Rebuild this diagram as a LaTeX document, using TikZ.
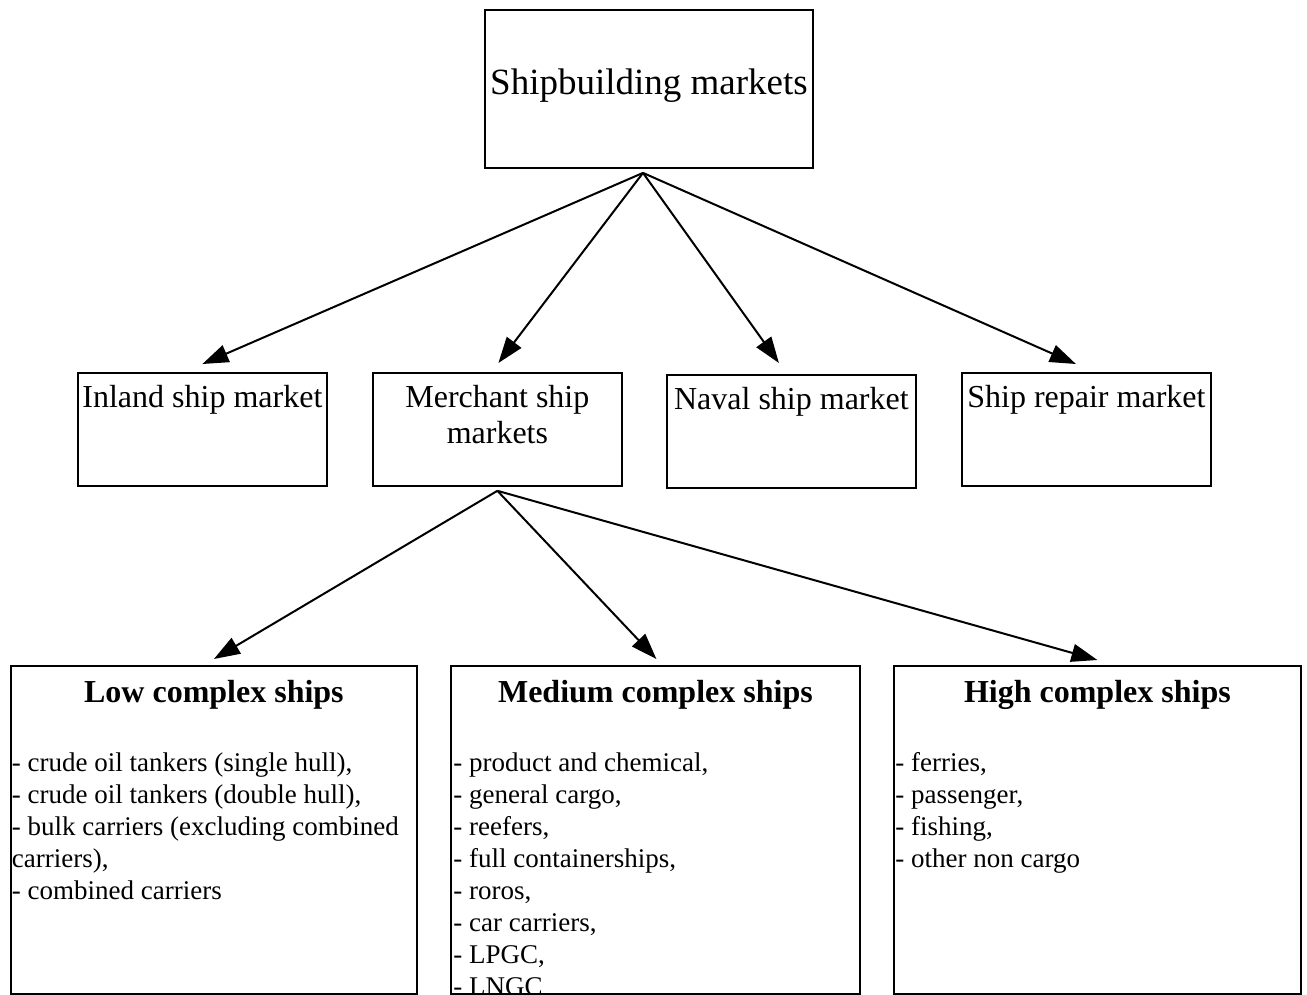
\documentclass[tikz,border=0pt]{standalone}
\usepackage{fontspec}
\setmainfont{Liberation Serif}
\usetikzlibrary{arrows.meta}
\tikzset{
  baseline = (current bounding box.center),
}
\newcommand{\midtext}[1]{\parbox[t][113pt][t]{249pt}{\centering\fontsize{32}{36}\selectfont\rule{0pt}{35pt}#1}}
\newcommand{\listtext}[2]{\parbox[t][328pt][t]{404pt}{\centering\bfseries\fontsize{32}{36}\selectfont\rule{0pt}{37pt}#1\par
  \raggedright\mdseries\fontsize{27}{32}\selectfont\vspace{37pt}#2}}

\begin{document}
\begin{tikzpicture}[
      x=1pt,y=1pt,
      box/.style={draw,line width=1.8pt,inner sep=0pt,anchor=north west},
      list/.style={box,inner xsep=1pt,minimum height=328pt},
      link/.style={line width=2pt,-{Triangle[length=26pt,width=18pt]}}
      ]
      \useasboundingbox (0,0) rectangle (1307,-995);
      \node[draw,line width=1.8pt,inner sep=0pt,minimum width=328pt,minimum height=158pt,
        font=\fontsize{37}{42}\selectfont] (ship) at (649,-89)
        {\raisebox{0pt}[\height][\dimexpr\depth+6pt]{Shipbuilding markets}};
      \node[box] (inland) at (77,-372) {\midtext{Inland ship market}};
      \node[box] (merchant) at (372,-372) {\midtext{Merchant ship\\markets}};
      \node[box] (naval) at (666,-374) {\midtext{Naval ship market}};
      \node[box] (repair) at (961,-372) {\midtext{Ship repair market}};
      \node[list,minimum width=406pt] (low) at (10,-665) {\listtext{Low complex ships}{%
        - crude oil tankers (single hull),\\
        - crude oil tankers (double hull),\\
        - bulk carriers (excluding combined\\
        carriers),\\
        - combined carriers}};
      \node[list,minimum width=409pt] (medium) at (450,-665) {\listtext{Medium complex ships}{%
        - product and chemical,\\
        - general cargo,\\
        - reefers,\\
        - full containerships,\\
        - roros,\\
        - car carriers,\\
        - LPGC,\\
        - LNGC}};
      \node[list,minimum width=407pt] (high) at (893,-665) {\listtext{High complex ships}{%
        - ferries,\\
        - passenger,\\
        - fishing,\\
        - other non cargo}};
      \coordinate (shipfoot) at ([xshift=-6pt,yshift=-4pt]ship.south);
      \coordinate (merchfoot) at ([yshift=-4pt]merchant.south);
      \draw[link] (shipfoot) -- ([yshift=8pt]inland.north);
      \draw[link] (shipfoot) -- ([xshift=1pt,yshift=9pt]merchant.north);
      \draw[link] (shipfoot) -- ([xshift=-12.5pt,yshift=11pt]naval.north);
      \draw[link] (shipfoot) -- ([xshift=-10.5pt,yshift=8pt]repair.north);
      \draw[link] (merchfoot) -- ([yshift=6pt]low.north);
      \draw[link] (merchfoot) -- ([xshift=1pt,yshift=6pt]medium.north);
      \draw[link] (merchfoot) -- ([yshift=5pt]high.north);
    \end{tikzpicture}
\end{document}
